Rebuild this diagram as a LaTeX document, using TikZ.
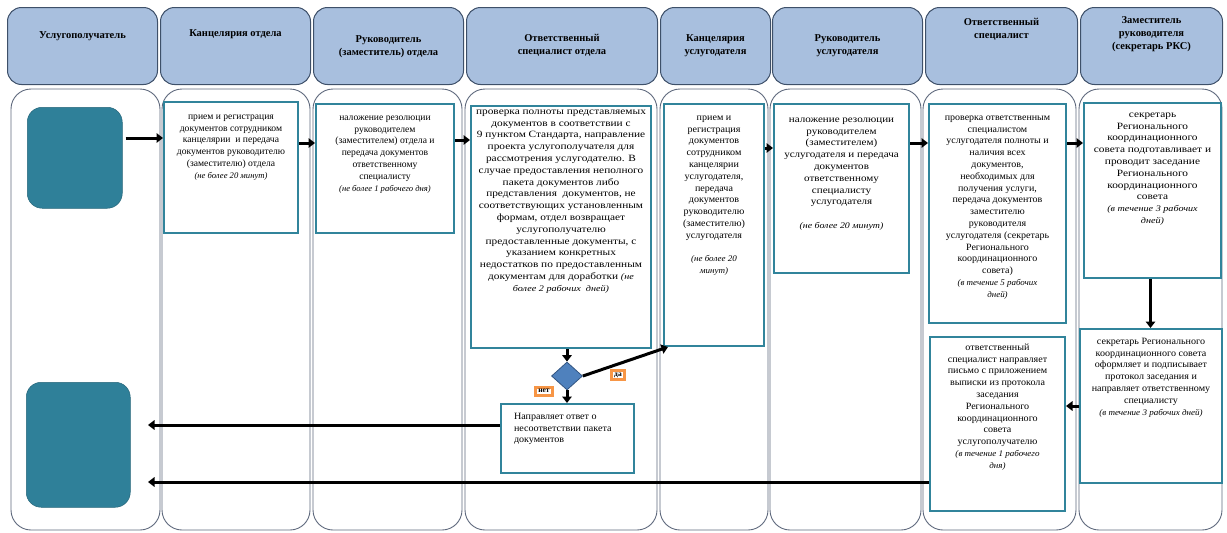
\documentclass[tikz,border=0pt]{standalone}
\usepackage{fontspec}
\setmainfont{Liberation Serif}
\usetikzlibrary{arrows.meta,shapes.geometric}
\definecolor{hdrfill}{RGB}{168,191,222}
\definecolor{hdrline}{RGB}{62,80,105}
\definecolor{laneline}{RGB}{95,105,125}
\definecolor{boxline}{RGB}{49,132,155}
\definecolor{darkbox}{RGB}{47,128,153}
\definecolor{diafill}{RGB}{79,129,189}
\definecolor{dialine}{RGB}{50,85,130}
\definecolor{lblorange}{RGB}{247,150,70}
\newcommand\bodyfs{\fontsize{9.6}{11.8}\selectfont}
\newcommand\notefs{\itshape\fontsize{8.6}{11.8}\selectfont}
\newcommand\bt[5]{\begin{minipage}[t][#2pt][t]{#1pt}\vspace*{#3pt}\centering\bodyfs\addfontfeature{FakeStretch=#4}\strut #5\end{minipage}}
\newcommand\hd[4]{\begin{minipage}[t][#2pt][t]{#1pt}\vspace*{#3pt}\centering\bfseries\fontsize{10.5}{13}\selectfont\strut #4\end{minipage}}
\newcommand\nt[1]{{\notefs #1}}
\begin{document}
\begin{tikzpicture}[x=1pt,y=-1pt,
 hdr/.style={draw=hdrline, line width=1pt, fill=hdrfill, rounded corners=14pt, inner sep=0, anchor=north west},
 lane/.style={draw=laneline, line width=0.9pt, fill=white, rounded corners=20pt},
 box/.style={draw=boxline, line width=2pt, fill=white, inner sep=0, anchor=north west},
 dark/.style={fill=darkbox, draw=darkbox!80!black, line width=0.5pt, rounded corners=15pt, inner sep=0, anchor=north west},
 arr/.style={draw=black, line width=3pt, -{Triangle[length=6.5pt,width=9.5pt]}},
 lbl/.style={draw=lblorange, line width=3pt, fill=white, font=\bfseries\fontsize{7.5}{7.5}\selectfont, inner xsep=3pt, inner ysep=2.2pt},
 dec/.style={diamond, fill=diafill, draw=dialine, line width=0.8pt, minimum width=31pt, minimum height=28pt, inner sep=0}]
\useasboundingbox (0,0) rectangle (1227,533);
% header row
\node[hdr] (h1) at (7,7) {\hd{150}{77}{22}{Услугополучатель}};
\node[hdr] (h2) at (160,7) {\hd{150}{77}{20}{Канцелярия отдела}};
\node[hdr] (h3) at (313,7) {\hd{150}{77}{26}{Руководитель\\(заместитель) отдела}};
\node[hdr] (h4) at (466,7) {\hd{191}{77}{25}{Ответственный\\специалист отдела}};
\node[hdr] (h5) at (660,7) {\hd{110}{77}{25}{Канцелярия\\услугодателя}};
\node[hdr] (h6) at (772,7) {\hd{150}{77}{25}{Руководитель\\услугодателя}};
\node[hdr] (h7) at (925,7) {\hd{152}{77}{9}{Ответственный\\специалист}};
\node[hdr] (h8) at (1080,7) {\hd{142}{77}{7}{Заместитель\\руководителя\\(секретарь РКС)}};
% lanes
\draw[lane] (11,89) rectangle (160,530);
\draw[lane] (162,89) rectangle (310,530);
\draw[lane] (313,89) rectangle (462,530);
\draw[lane] (465,89) rectangle (657,530);
\draw[lane] (660,89) rectangle (768,530);
\draw[lane] (770,89) rectangle (921,530);
\draw[lane] (923,89) rectangle (1076,530);
\draw[lane] (1079,89) rectangle (1222,530);
% service recipient blocks
\node[dark, minimum width=95pt, minimum height=101pt] (u1) at (27,107) {};
\node[dark, minimum width=104pt, minimum height=125pt] (u2) at (26,382) {};
% process boxes
\node[box] (b2) at (163,101) {\bt{134}{131}{9}{1.0}{прием и регистрация\\ документов сотрудником\\ канцелярии~ и передача\\ документов руководителю\\ (заместителю) отдела\\ \nt{(не более 20 минут)}}};
\node[box] (b3) at (315,103) {\bt{138}{129}{8}{1.0}{наложение резолюции\\ руководителем\\ (заместителем) отдела и\\ передача документов\\ ответственному\\ специалисту\\ \nt{(не более 1 рабочего дня)}}};
\node[box] (b4) at (470,105) {\bt{180}{242}{0}{1.18}{проверка полноты представляемых\\ документов в соответствии с\\ 9 пунктом Стандарта, направление\\ проекта услугополучателя для\\ рассмотрения услугодателю. В\\ случае предоставления неполного\\ пакета документов либо\\ представления~ документов, не\\ соответствующих установленным\\ формам, отдел возвращает\\ услугополучателю\\ предоставленные документы, с\\ указанием конкретных\\ недостатков по предоставленным\\ документам для доработки \nt{(не}\\ \nt{более 2 рабочих~ дней)}}};
\node[box] (b5) at (663,103) {\bt{100}{242}{8}{1.05}{прием и\\ регистрация\\ документов\\ сотрудником\\ канцелярии\\ услугодателя,\\ передача\\ документов\\ руководителю\\ (заместителю)\\ услугодателя\\[11.8pt] \nt{(не более 20}\\ \nt{минут)}}};
\node[box] (b6) at (773,103) {\bt{135}{169}{10}{1.15}{наложение резолюции\\ руководителем\\ (заместителем)\\ услугодателя и передача\\ документов\\ ответственному\\ специалисту\\ услугодателя\\[11.8pt] \nt{(не более 20 минут)}}};
\node[box] (b7a) at (928,103) {\bt{137}{219}{8}{1.04}{проверка ответственным\\ специалистом\\ услугодателя полноты и\\ наличия всех\\ документов,\\ необходимых для\\ получения услуги,\\ передача документов\\ заместителю\\ руководителя\\ услугодателя (секретарь\\ Регионального\\ координационного\\ совета)\\ \nt{(в течение 5 рабочих}\\ \nt{дней)}}};
\node[box] (b8a) at (1083,102) {\bt{137}{175}{6}{1.18}{секретарь\\ Регионального\\ координационного\\ совета подготавливает и\\ проводит заседание\\ Регионального\\ координационного\\ совета\\ \nt{(в течение 3 рабочих}\\ \nt{дней)}}};
\node[box] (b8b) at (1079,328) {\bt{142}{154}{7}{1.05}{секретарь Регионального\\ координационного совета\\ оформляет и подписывает\\ протокол заседания и\\ направляет ответственному\\ специалисту\\ \nt{(в течение 3 рабочих дней)}}};
\node[box] (b7b) at (929,336) {\bt{135}{174}{5}{1.05}{ответственный\\ специалист направляет\\ письмо с приложением\\ выписки из протокола\\ заседания\\ Регионального\\ координационного\\ совета\\ услугополучателю\\ \nt{(в течение 1 рабочего}\\ \nt{дня)}}};
\node[box] (ans) at (500,403) {\begin{minipage}[t][69pt][t]{133pt}\vspace*{7pt}\raggedright\leftskip=13pt\bodyfs\addfontfeature{FakeStretch=1.05}\strut Направляет ответ о\\ несоответствии пакета\\ документов\end{minipage}};
% decision
\node[dec] (dia) at (567,376) {};
\node[lbl] (no) at (544,391) {нет};
\node[lbl] (yes) at (618,375) {да};
% arrow levels
\coordinate (y1) at (0,138);
\coordinate (y2) at (0,143);
\coordinate (y3) at (0,140);
\coordinate (y5) at (0,148);
\coordinate (r1) at (148,425);
\coordinate (r2) at (148,482);
% connectors
\draw[arr] ([xshift=3pt]u1.east |- y1) -- (b2.west |- y1);
\draw[arr] (b2.east |- y2) -- (b3.west |- y2);
\draw[arr] (b3.east |- y3) -- (b4.west |- y3);
\draw[arr] (dia.north |- b4.south) -- (dia.north);
\draw[arr] (dia.south) -- (dia.south |- ans.north);
\draw[arr] (dia.east) -- ([xshift=5pt]b5.south west);
\draw[arr] (b5.east |- y5) -- (b6.west |- y5);
\draw[arr] (b6.east |- y2) -- (b7a.west |- y2);
\draw[arr] (b7a.east |- y2) -- (b8a.west |- y2);
\draw[arr] ([xshift=-2pt]b8a.south) -- ([xshift=-2pt]b8a.south |- b8b.north);
\draw[arr] (b8b.west) -- (b8b.west -| b7b.east);
\draw[arr] (r1 -| ans.west) -- (r1);
\draw[arr] (r2 -| b7b.west) -- (r2);
\end{tikzpicture}
\end{document}
